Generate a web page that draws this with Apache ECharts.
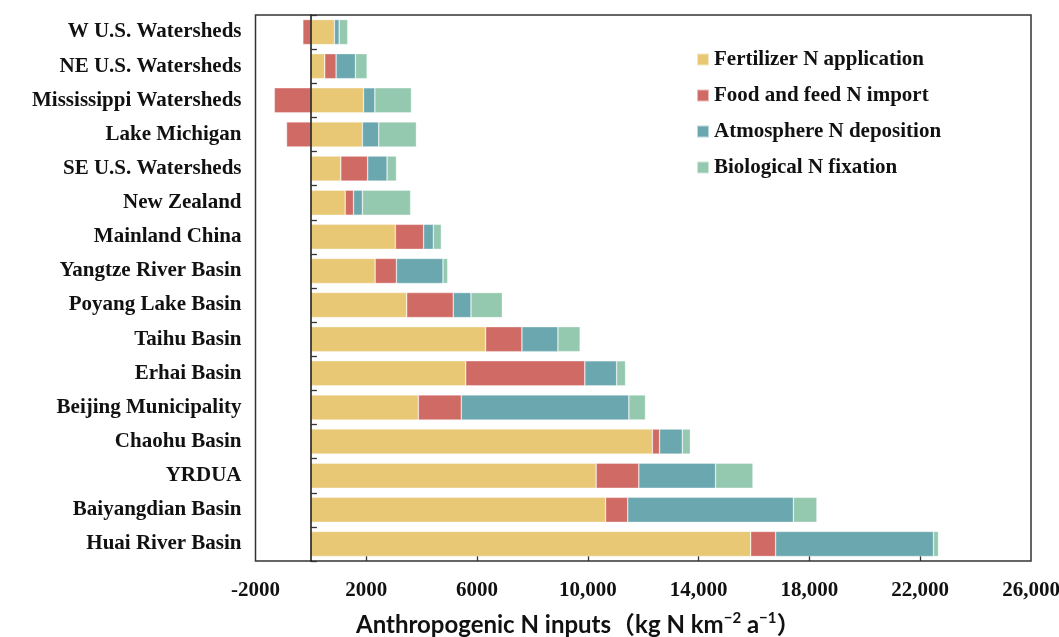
<!DOCTYPE html>
<html>
<head>
<meta charset="utf-8">
<title>Anthropogenic N inputs by region</title>
<script src="https://cdn.jsdelivr.net/npm/echarts@6/dist/echarts.min.js"></script>
<style>
  html, body { margin: 0; padding: 0; background: #ffffff; }
  #chart { width: 1059px; height: 637px; }
</style>
</head>
<body>
<div id="chart"></div>
<script>
// Regions, listed from top to bottom
const regions = [
  'W U.S. Watersheds',
  'NE U.S. Watersheds',
  'Mississippi Watersheds',
  'Lake Michigan',
  'SE U.S. Watersheds',
  'New Zealand',
  'Mainland China',
  'Yangtze River Basin',
  'Poyang Lake Basin',
  'Taihu Basin',
  'Erhai Basin',
  'Beijing Municipality',
  'Chaohu Basin',
  'YRDUA',
  'Baiyangdian Basin',
  'Huai River Basin'
];

// N input components (kg N km^-2 a^-1), same order as regions
const fertilizer = [850, 500, 1900, 1860, 1080, 1240, 3050, 2320, 3460, 6310, 5590, 3880, 12330, 10300, 10640, 15880];
const foodFeed   = [-290, 410, -1320, -880, 970, 300, 1020, 770, 1680, 1310, 4300, 1550, 260, 1540, 800, 900];
const atmosphere = [170, 700, 410, 590, 700, 320, 350, 1680, 640, 1300, 1150, 6050, 820, 2770, 5980, 5700];
const biological = [310, 420, 1320, 1360, 340, 1740, 290, 170, 1130, 800, 320, 600, 290, 1350, 850, 180];

const seriesNames = [
  'Fertilizer N application',
  'Food and feed N import',
  'Atmosphere N deposition',
  'Biological N fixation'
];

// Labelled positions on the x axis and their printed text
const xTickValues = [-2000, 2000, 6000, 10000, 14000, 18000, 22000, 26000];
const xTickLabels = ['-2000', '2000', '6000', '10,000', '14,000', '18,000', '22,000', '26,000'];

const colors = ['#E9C875', '#D06A64', '#6BA7AF', '#95C9AF'];
const serif = "'Liberation Serif', 'Times New Roman', serif";
const sans = "Lato, 'Noto Sans CJK SC', sans-serif";

const chart = echarts.init(document.getElementById('chart'), null, { renderer: 'canvas' });

const seriesData = [fertilizer, foodFeed, atmosphere, biological];

chart.setOption({
  backgroundColor: '#ffffff',
  animation: false,
  color: colors,
  grid: {
    left: 255.5,
    right: 28,
    top: 15,
    bottom: 76,
    show: true,
    borderColor: '#333333',
    borderWidth: 1.5,
    containLabel: false,
    outerBoundsMode: 'none'
  },
  legend: {
    orient: 'vertical',
    left: 696,
    top: 49,
    padding: 0,
    itemWidth: 12,
    itemHeight: 12,
    itemGap: 15,
    icon: 'rect',
    data: seriesNames,
    textStyle: {
      fontFamily: serif,
      fontWeight: 'bold',
      fontSize: 21,
      color: '#111111'
    }
  },
  xAxis: {
    type: 'value',
    min: -2000,
    max: 26000,
    splitLine: { show: false },
    axisLine: { show: false },
    axisTick: {
      show: true,
      inside: true,
      length: 6,
      customValues: [2000, 6000, 10000, 14000, 18000, 22000],
      lineStyle: { color: '#333333', width: 1.3 }
    },
    axisLabel: {
      customValues: xTickValues,
      formatter: function (v) {
        const i = xTickValues.indexOf(v);
        return i >= 0 ? xTickLabels[i] : '';
      },
      margin: 19,
      fontFamily: serif,
      fontWeight: 'bold',
      fontSize: 21,
      color: '#111111'
    },
    name: '{t|Anthropogenic N inputs（kg N km}{s|−2}{t| a}{s|−1}{t|）}',
    nameLocation: 'middle',
    nameGap: 50,
    nameTextStyle: {
      padding: [0, 130, 0, 0],
      rich: {
        t: {
          fontFamily: sans,
          fontWeight: 'bold',
          fontSize: 24,
          color: '#111111'
        },
        s: {
          fontFamily: sans,
          fontWeight: 'bold',
          fontSize: 15,
          color: '#111111',
          padding: [0, 0, 13, 0]
        }
      }
    }
  },
  yAxis: [
    {
      type: 'category',
      inverse: true,
      data: regions,
      position: 'left',
      axisLine: { show: false, onZero: false },
      axisTick: { show: false },
      splitLine: { show: false },
      axisLabel: {
        margin: 14,
        fontFamily: serif,
        fontWeight: 'bold',
        fontSize: 21,
        color: '#111111'
      }
    },
    {
      // zero reference line with inner ticks between regions
      type: 'category',
      inverse: true,
      data: regions,
      position: 'left',
      z: 10,
      axisLine: { show: true, onZero: true, lineStyle: { color: '#111111', width: 1.5 } },
      axisTick: { show: true, inside: true, length: 6, lineStyle: { color: '#333333', width: 1.3 } },
      axisLabel: { show: false },
      splitLine: { show: false }
    }
  ],
  series: seriesNames.map(function (name, k) {
    return {
      name: name,
      type: 'bar',
      stack: 'total',
      yAxisIndex: 0,
      barWidth: 25,
      data: seriesData[k],
      itemStyle: {
        color: colors[k],
        borderColor: 'rgba(255,255,255,0.55)',
        borderWidth: 0.6
      }
    };
  })
});
</script>
</body>
</html>
